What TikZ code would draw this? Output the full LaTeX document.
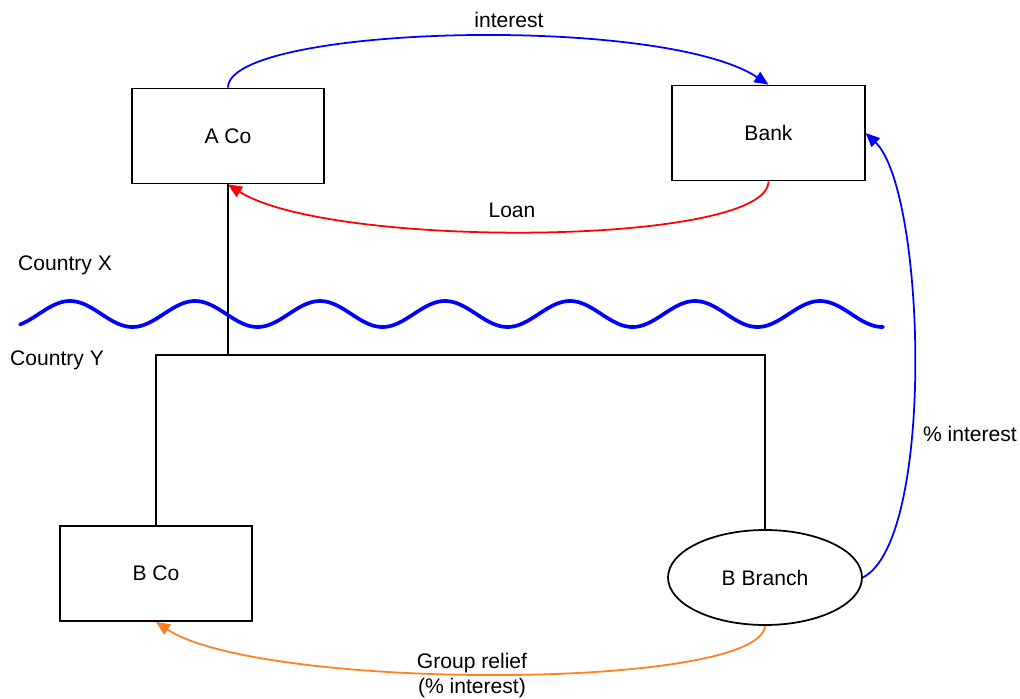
\documentclass[tikz,border=0pt]{standalone}
\usepackage{fontspec}
\setmainfont{Liberation Sans}
\usetikzlibrary{arrows.meta,shapes.geometric}
\definecolor{reliefor}{RGB}{255,128,32}
\begin{document}
\begin{tikzpicture}[
        font=\fontsize{12}{14}\selectfont,
        box/.style={rectangle, draw, line width=1pt, minimum width=38.5mm, minimum height=19mm, inner sep=0pt},
        branch/.style={ellipse, draw, line width=1pt, minimum width=38.8mm, minimum height=19mm, inner sep=0pt},
        tree/.style={line width=1pt},
        arrow/.style={-{Triangle[length=2.8mm,width=2.4mm]}, line width=1pt},
        wave/.style={blue, line width=2.1pt, line cap=round}
    ]
        \useasboundingbox (0,0) rectangle (20.4,-13.96);
        \node[box] (aco) at (4.56, -2.72) {A Co};
        \node[box] (bank) at (15.37, -2.66) {Bank};
        \node[box] (bco) at (3.12, -11.47) {B Co};
        \node[branch] (bbranch) at (15.3, -11.55) {B Branch};
        % group structure
        \coordinate (split) at (4.56, -7.1);
        \draw[tree] (aco.south) -- (split) -| (bco.north);
        \draw[tree] (split) -| (bbranch.north);
        % border between the two countries
        \draw[wave] plot[domain=0.4:17.66, samples=300, smooth] (\x, {-6.28+0.26*cos(144*(\x-1.4))});
        \node[anchor=west] (cx) at (0.24, -5.3) {Country X};
        \node[anchor=west] (cy) at (0.08, -7.2) {Country Y};
        % flows
        \draw[arrow, blue] (aco.north) .. controls +(0,1.24) and +(-2.17,1.42) .. (bank.north);
        \node (lint) at (10.18, -0.40) {interest};
        \draw[arrow, red] (bank.south) .. controls +(0,-1.3) and +(2.04,-1.3) .. (aco.south);
        \node (lloan) at (10.24, -4.2) {Loan};
        \draw[arrow, blue] (bbranch.east) .. controls +(1.46,0.75) and +(1.2,-1.14) .. (bank.east);
        \node (lpct) at (19.4, -8.68) {\% interest};
        \draw[arrow, reliefor] (bbranch.south) .. controls +(-0.1,-1.3) and +(2.08,-1.38) .. (bco.south);
        \node[align=center] (lrelief) at (9.44, -13.51) {Group relief\\(\% interest)};
    \end{tikzpicture}
\end{document}
